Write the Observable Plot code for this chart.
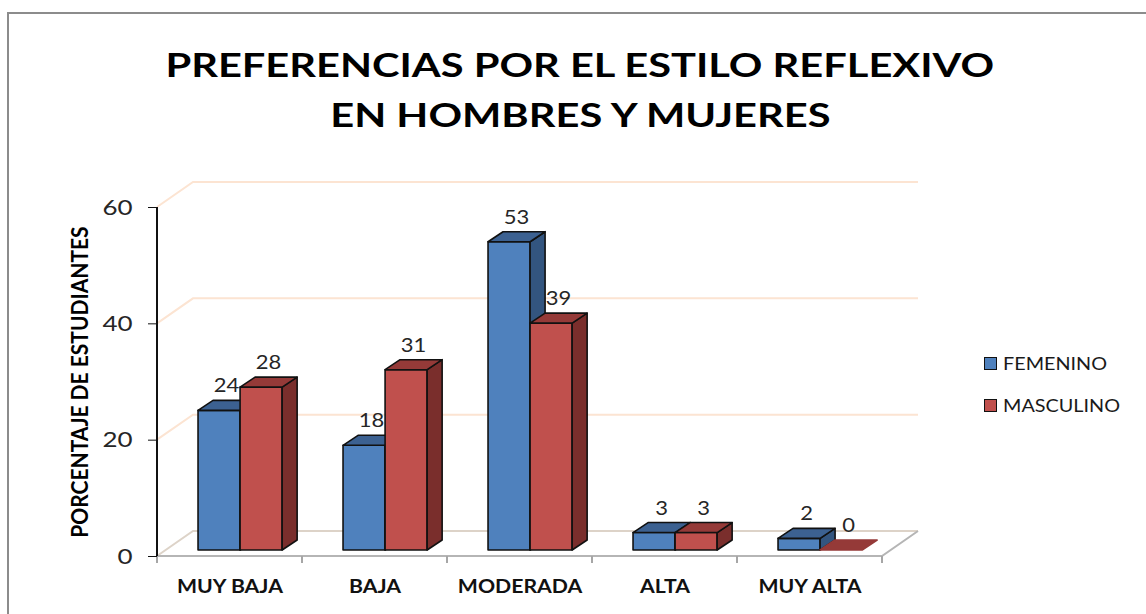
<!DOCTYPE html>
<html>
<head>
<meta charset="utf-8">
<script src="https://cdn.jsdelivr.net/npm/d3@7"></script>
<script src="https://cdn.jsdelivr.net/npm/@observablehq/plot@0.6"></script>
<style>
  html, body { margin: 0; padding: 0; background: #fff; width: 1146px; height: 614px; overflow: hidden; font-family: Lato, "Open Sans", sans-serif; }
  #page { position: relative; width: 1146px; height: 614px; }
  #frame { position: absolute; left: 7px; top: 12px; width: 1400px; height: 900px; border: 2px solid #8c8c8c; box-sizing: border-box; pointer-events: none; }
  #title { position: relative; height: 150px; box-sizing: border-box; padding-top: 40px; padding-left: 14px; text-align: center; font-weight: bold; font-size: 32px; line-height: 50px; color: #000; }
  #title span { display: inline-block; transform: scaleX(1.3); transform-origin: center; white-space: nowrap; }
  #legend { position: absolute; left: 984px; top: 342px; font-size: 18px; color: #1a1a1a; }
  .item { display: flex; align-items: center; height: 42px; }
  .sw { width: 11px; height: 11px; border: 1.5px solid #111; margin-right: 6px; }
  .item span { display: inline-block; transform: scaleX(1.1); transform-origin: left center; }
  #chart svg { display: block; }
</style>
</head>
<body>
<div id="page">
  <div id="frame"></div>
  <div id="title"><span>PREFERENCIAS POR EL ESTILO REFLEXIVO</span><br><span>EN HOMBRES Y MUJERES</span></div>
  <div id="chart"></div>
  <div id="legend"></div>
</div>
<script>
const cats = ["MUY BAJA", "BAJA", "MODERADA", "ALTA", "MUY ALTA"];
const series = ["FEMENINO", "MASCULINO"];
const femenino = [24, 18, 53, 3, 2];
const masculino = [28, 31, 39, 3, 0];
const yTicks = [0, 20, 40, 60];
const yLabel = "PORCENTAJE DE ESTUDIANTES";

const palette = {
  FEMENINO: {front: "#4f81bd", top: "#3c6191", side: "#33557f"},
  MASCULINO: {front: "#c0504d", top: "#953a38", side: "#7a2e2c"}
};

const rows = cats.flatMap((c, i) => [
  {cat: c, sexo: series[0], value: femenino[i]},
  {cat: c, sexo: series[1], value: masculino[i]}
]);

// 3D styling constants
const WALL = {dx: 36, dy: -25};
const BAR = {dx: 15, dy: -10, lift: 6, start: 0.283, width: 0.29};
const STRETCH = 1.18; // horizontal stretch of glyphs, as in the reference

function scene3d(index, scales) {
  const X = scales.x, Y = scales.y;
  const bw = X(cats[1]) - X(cats[0]);
  const xL = X(cats[0]), xR = X(cats[cats.length - 1]) + bw;
  const y0 = Y(0);
  const g = d3.create("svg:g");
  for (const t of yTicks) {
    const y = Y(t);
    g.append("path")
      .attr("d", `M${xL},${y}L${xL + WALL.dx},${y + WALL.dy}L${xR + WALL.dx},${y + WALL.dy}`)
      .attr("fill", "none")
      .attr("stroke", t === 0 ? "#ddd3c8" : "#fce4d2")
      .attr("stroke-width", 2);
  }
  g.append("path")
    .attr("d", `M${xL},${y0}L${xR},${y0}L${xR + WALL.dx},${y0 + WALL.dy}`)
    .attr("fill", "none").attr("stroke", "#b5b5b5").attr("stroke-width", 2);
  for (let i = 0; i <= cats.length; i++) {
    const x = xL + i * bw;
    g.append("line").attr("x1", x).attr("x2", x).attr("y1", y0).attr("y2", y0 + 7)
      .attr("stroke", "#a6a6a6").attr("stroke-width", 2);
  }
  g.append("line").attr("x1", xL).attr("x2", xL).attr("y1", Y(yTicks[yTicks.length - 1])).attr("y2", y0)
    .attr("stroke", "#111").attr("stroke-width", 2);
  const bars = g.append("g").attr("stroke", "#111").attr("stroke-width", 1.6).attr("stroke-linejoin", "round");
  const labels = g.append("g").attr("text-anchor", "middle").attr("font-size", 20).attr("fill", "#262626");
  for (const r of rows) {
    const si = series.indexOf(r.sexo);
    const col = palette[r.sexo];
    const w = bw * BAR.width;
    const left = X(r.cat) + bw * (BAR.start + si * BAR.width);
    const top = Y(r.value) - BAR.lift;
    const base = y0 - BAR.lift;
    const {dx, dy} = BAR;
    if (base - top > 0.5) {
      bars.append("rect").attr("x", left).attr("y", top).attr("width", w).attr("height", base - top).attr("fill", col.front);
      bars.append("path")
        .attr("d", `M${left + w},${top}L${left + w + dx},${top + dy}L${left + w + dx},${base + dy}L${left + w},${base}Z`)
        .attr("fill", col.side);
    }
    bars.append("path")
      .attr("d", `M${left},${top}L${left + dx},${top + dy}L${left + w + dx},${top + dy}L${left + w},${top}Z`)
      .attr("fill", col.top)
      .attr("stroke", base - top > 0.5 ? null : col.top);
    labels.append("text")
      .attr("transform", `translate(${left + w / 2 + dx / 2},${top + dy - 8}) scale(1.1,1)`)
      .text(String(r.value));
  }
  return g.node();
}

const plot = Plot.plot({
  width: 1146,
  height: 464,
  marginLeft: 157,
  marginRight: 264,
  marginTop: 57,
  marginBottom: 58,
  style: {fontFamily: "Lato, 'Open Sans', sans-serif", background: "#fff"},
  x: {type: "band", domain: cats, padding: 0, axis: null},
  y: {domain: [0, 60], axis: null},
  marks: [
    scene3d,
    Plot.axisY(yTicks, {tickSize: 9, tickPadding: 16, fontSize: 22, color: "#111", fill: "#262626", label: null, className: "ytick"}),
    Plot.axisX(cats, {tickSize: 0, tickPadding: 24, fontSize: 18, fontWeight: "bold", fill: "#111", label: null, className: "xtick"}),
    Plot.text([yLabel], {frameAnchor: "left", textAnchor: "middle", rotate: -90, dx: -77, fontSize: 20, fontWeight: "bold", fill: "#000", className: "ylab"})
  ]
});
document.getElementById("chart").appendChild(plot);

// stretch glyphs horizontally around their anchors, like the reference
d3.select(plot).selectAll(".ytick text, .xtick text").each(function() {
  const t = this.getAttribute("transform") || "";
  this.setAttribute("transform", `${t} scale(${STRETCH},1)`);
});
d3.select(plot).selectAll(".ylab text").each(function() {
  const t = this.getAttribute("transform") || "";
  this.setAttribute("transform", `${t} scale(1.05,${STRETCH})`);
});

const legend = d3.select("#legend");
for (const s of series) {
  const it = legend.append("div").attr("class", "item");
  it.append("div").attr("class", "sw").style("background", palette[s].front);
  it.append("span").text(s);
}
</script>
</body>
</html>
